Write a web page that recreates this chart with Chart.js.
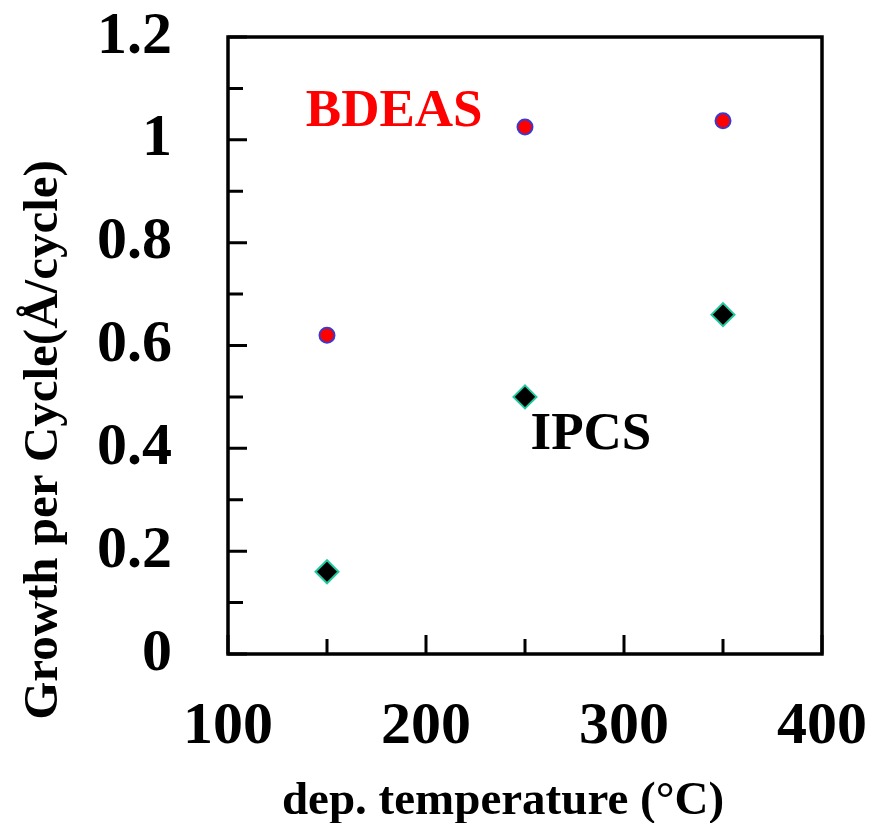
<!DOCTYPE html>
<html>
<head>
<meta charset="utf-8">
<script src="https://cdn.jsdelivr.net/npm/chart.js@4/dist/chart.umd.min.js"></script>
<style>
  html, body { margin: 0; padding: 0; background: #ffffff; }
  #wrap { width: 874px; height: 823px; position: relative; }
</style>
</head>
<body>
<div id="wrap"><canvas id="c" width="874" height="823"></canvas></div>
<script>
// ---- data ----
const temperatures = [150, 250, 350];
const bdeasGPC = [0.62, 1.025, 1.037];
const ipcsGPC = [0.16, 0.50, 0.66];
const xTickValues = [100, 200, 300, 400];
const xTickLabels = ['100', '200', '300', '400'];
const xMinorTicks = [150, 250, 350];
const yTickValues = [0, 0.2, 0.4, 0.6, 0.8, 1.0, 1.2];
const yTickLabels = ['0', '0.2', '0.4', '0.6', '0.8', '1', '1.2'];
const yMinorTicks = [0.1, 0.3, 0.5, 0.7, 0.9, 1.1];
const seriesNames = ['BDEAS', 'IPCS'];
const xTitle = 'dep. temperature (\u00B0C)';
const yTitle = 'Growth per Cycle(\u00C5/cycle)';

const FONT = '"Liberation Serif", "Times New Roman", Times, serif';

// annotation placement (data coordinates), kept separately from data
const annotations = [
  { text: seriesNames[0], x: 139.3, y: 1.027, color: '#ff0000' },
  { text: seriesNames[1], x: 252.8, y: 0.399, color: '#000000' }
];

const framePlugin = {
  id: 'frameAndTicks',
  beforeDatasetsDraw(chart) {
    const { ctx, chartArea: a, scales } = chart;
    const xs = scales.x, ys = scales.y;
    ctx.save();
    ctx.strokeStyle = '#000';
    ctx.lineCap = 'butt';
    ctx.lineWidth = 3;
    const MAJ = 19, MIN = 15;
    ctx.beginPath();
    yTickValues.forEach(v => {
      const p = ys.getPixelForValue(v);
      ctx.moveTo(a.left, p); ctx.lineTo(a.left + MAJ, p);
    });
    yMinorTicks.forEach(v => {
      const p = ys.getPixelForValue(v);
      ctx.moveTo(a.left, p); ctx.lineTo(a.left + MIN, p);
    });
    xTickValues.forEach(v => {
      const p = xs.getPixelForValue(v);
      ctx.moveTo(p, a.bottom); ctx.lineTo(p, a.bottom - MAJ);
    });
    xMinorTicks.forEach(v => {
      const p = xs.getPixelForValue(v);
      ctx.moveTo(p, a.bottom); ctx.lineTo(p, a.bottom - MIN);
    });
    ctx.stroke();
    ctx.lineWidth = 3.5;
    ctx.strokeRect(a.left, a.top, a.right - a.left, a.bottom - a.top);
    ctx.restore();
  },
  afterDatasetsDraw(chart) {
    const { ctx, scales } = chart;
    ctx.save();
    ctx.font = 'bold 53px ' + FONT;
    ctx.textAlign = 'left';
    ctx.textBaseline = 'alphabetic';
    annotations.forEach(an => {
      ctx.fillStyle = an.color;
      ctx.fillText(an.text, scales.x.getPixelForValue(an.x), scales.y.getPixelForValue(an.y));
    });
    ctx.fillStyle = '#000';
    ctx.textAlign = 'center';
    ctx.font = 'bold 47px ' + FONT;
    ctx.fillText(xTitle, 503, 814);
    ctx.save();
    ctx.translate(57, 440);
    ctx.rotate(-Math.PI / 2);
    ctx.font = 'bold 49px ' + FONT;
    ctx.fillText(yTitle, 0, 0);
    ctx.restore();
    ctx.restore();
  }
};

function zeroPad(s) { s.paddingTop = 0; s.paddingBottom = 0; s.paddingLeft = 0; s.paddingRight = 0; }

new Chart(document.getElementById('c'), {
  type: 'scatter',
  data: {
    datasets: [
      {
        label: seriesNames[0],
        data: temperatures.map((t, i) => ({ x: t, y: bdeasGPC[i] })),
        pointStyle: 'circle',
        pointRadius: 7.5,
        pointBackgroundColor: '#ff0000',
        pointBorderColor: '#3a3ad0',
        pointBorderWidth: 2,
        showLine: false
      },
      {
        label: seriesNames[1],
        data: temperatures.map((t, i) => ({ x: t, y: ipcsGPC[i] })),
        pointStyle: 'rectRot',
        pointRadius: 11.5,
        pointBackgroundColor: '#000000',
        pointBorderColor: '#22c9a0',
        pointBorderWidth: 2,
        showLine: false
      }
    ]
  },
  options: {
    responsive: false,
    animation: false,
    events: [],
    layout: { padding: { left: 0, right: 52, top: 37, bottom: 0 } },
    plugins: { legend: { display: false }, tooltip: { enabled: false }, title: { display: false } },
    scales: {
      x: {
        type: 'linear',
        min: 100, max: 400,
        grid: { display: false, drawTicks: false, tickLength: 0 },
        border: { display: false },
        afterBuildTicks: s => { s.ticks = xTickValues.map(v => ({ value: v })); },
        afterFit: s => { s.height = 169; zeroPad(s); },
        ticks: {
          autoSkip: false, maxRotation: 0, minRotation: 0,
          padding: 37,
          color: '#000',
          font: { family: FONT, size: 60, weight: 'bold' },
          callback: (v, i) => xTickLabels[i]
        }
      },
      y: {
        type: 'linear',
        min: 0, max: 1.2,
        grid: { display: false, drawTicks: false, tickLength: 0 },
        border: { display: false },
        afterBuildTicks: s => { s.ticks = yTickValues.map(v => ({ value: v })); },
        afterFit: s => { s.width = 228; zeroPad(s); },
        ticks: {
          autoSkip: false,
          padding: 56,
          color: '#000',
          font: { family: FONT, size: 60, weight: 'bold' },
          callback: (v, i) => yTickLabels[i]
        }
      }
    }
  },
  plugins: [framePlugin]
});
</script>
</body>
</html>
